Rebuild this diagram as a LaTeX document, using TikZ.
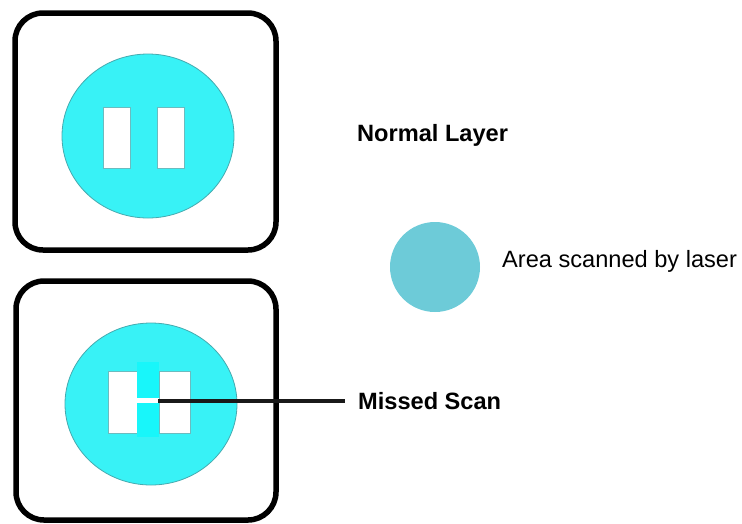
\documentclass[tikz,border=0pt]{standalone}
\usepackage{fontspec}
\setmainfont{Liberation Sans}
\usepackage{tikz}
\usetikzlibrary{positioning}
\usetikzlibrary{shapes}
\definecolor{scancyan}{RGB}{56,242,246}
\definecolor{misscyan}{RGB}{24,246,250}
\definecolor{scanedge}{RGB}{70,170,175}
\definecolor{legendcyan}{RGB}{109,203,216}
\tikzset{
  layer_box/.style={draw, color=black, line width = 5.5pt, rounded corners = 28pt},
  scan_area/.style={draw = scanedge, fill = scancyan, line width = 0.8pt},
  part_hole/.style={draw = scanedge!80, fill = white, line width = 0.8pt},
  miss_strip/.style={fill = misscyan, draw = none},
  label_bold/.style={draw = none, anchor = west, font = \fontsize{23.6}{28}\selectfont\bfseries, inner sep = 0},
  label_plain/.style={draw = none, anchor = west, font = \fontsize{23.6}{28}\selectfont, inner sep = 0},
  arrow_miss/.style={-, line width = 3.8pt, color = black!90}}

\begin{document}
\begin{tikzpicture}[x = 1pt, y = -1pt]

\useasboundingbox (0,0) rectangle (742,523);

%%% normal layer
\draw[layer_box] (15,13) rectangle (276,250);
\draw[scan_area] (148,136) ellipse [x radius = 86, y radius = 82];
\draw[part_hole] (103,107) rectangle (130,168);
\draw[part_hole] (157,107) rectangle (184,168);

%%% layer with missed scan
\draw[layer_box] (16,281) rectangle (276,520);
\draw[scan_area] (151,404) ellipse [x radius = 86, y radius = 81];
\draw[part_hole] (108,371) rectangle (137,433);
\draw[part_hole] (159,371) rectangle (190,433);
\fill[miss_strip] (137.4,362) rectangle (158.6,437);
\fill[white] (137.4,398) rectangle (158.6,403);
\coordinate (miss) at (158,401);

%%% legend
\node[circle, fill = legendcyan, minimum size = 90pt, inner sep = 0] at (435,267) (legend){};

%%% labels
\node[label_bold] at (357,135) (normal){Normal Layer};
\node[label_plain] at (502,261) (area){Area scanned by laser};
\node[label_bold] at (358,401) (missed){Missed Scan};

\draw[arrow_miss] (miss) -- ([xshift = -13pt]missed.west);

\end{tikzpicture}
\end{document}
